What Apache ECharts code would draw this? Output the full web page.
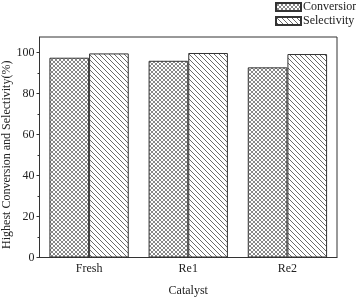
<!DOCTYPE html>
<html><head><meta charset="utf-8">
<script src="https://cdn.jsdelivr.net/npm/echarts@6/dist/echarts.min.js"></script>
<style>html,body{margin:0;padding:0;background:#fff}#c{width:356px;height:298px}</style>
</head><body><div id="c"></div>
<script>
const categories = ['Fresh', 'Re1', 'Re2'];
const conversion = [97.4, 95.9, 92.7];
const selectivity = [99.5, 99.7, 99.2];
const yTicks = [0, 20, 40, 60, 80, 100];
const yMinorTicks = [10, 30, 50, 70, 90];

function crossPattern() {
  const c = document.createElement('canvas');
  c.width = 4; c.height = 4;
  const g = c.getContext('2d');
  g.fillStyle = '#fff'; g.fillRect(0, 0, 4, 4);
  g.strokeStyle = '#6a6a6a'; g.lineWidth = 0.8;
  g.beginPath();
  g.moveTo(0, 0); g.lineTo(4, 4);
  g.moveTo(4, 0); g.lineTo(0, 4);
  g.stroke();
  return c;
}
function diagPattern() {
  const s = 5;
  const c = document.createElement('canvas');
  c.width = s; c.height = s;
  const g = c.getContext('2d');
  g.fillStyle = '#fff'; g.fillRect(0, 0, s, s);
  g.strokeStyle = '#444'; g.lineWidth = 0.8;
  g.beginPath();
  g.moveTo(-1, -1); g.lineTo(s + 1, s + 1);
  g.moveTo(-1, s - 1); g.lineTo(1, s + 1);
  g.moveTo(s - 1, -1); g.lineTo(s + 1, 1);
  g.stroke();
  return c;
}
const font = 'Liberation Serif';
const txt = '#222';
const chart = echarts.init(document.getElementById('c'), null, {renderer: 'canvas'});
chart.setOption({
  animation: false,
  textStyle: {fontFamily: font},
  grid: {left: 39.5, right: 19, top: 37, bottom: 40.5, containLabel: false, outerBoundsMode: 'none',
    show: true, borderColor: '#333', borderWidth: 1, backgroundColor: 'transparent'},
  legend: {
    orient: 'vertical', left: 275, top: 1, itemWidth: 25, itemHeight: 8, itemGap: 2,
    icon: 'rect', padding: 0,
    textStyle: {fontFamily: font, fontSize: 12, color: txt, padding: [0, 0, 0, -3]},
    data: ['Conversion', 'Selectivity']
  },
  xAxis: [{
    type: 'category', data: categories,
    name: 'Catalyst', nameLocation: 'middle', nameGap: 27, nameMoveOverlap: false,
    nameTextStyle: {fontFamily: font, fontSize: 12, color: txt},
    axisLine: {lineStyle: {color: '#333', width: 1}},
    axisTick: {alignWithLabel: true, length: 4, lineStyle: {color: '#333'}},
    axisLabel: {fontFamily: font, fontSize: 12, color: txt, margin: 5}
  }, {
    type: 'category', data: categories, position: 'bottom',
    axisLine: {show: false},
    axisTick: {length: 2.5, lineStyle: {color: '#333'}},
    axisLabel: {show: false}
  }],
  yAxis: [{
    type: 'value', min: 0, max: 107.5, interval: 20,
    name: 'Highest Conversion and Selectivity(%)', nameLocation: 'middle', nameGap: 27, nameMoveOverlap: false,
    nameTextStyle: {fontFamily: font, fontSize: 12, color: txt, padding: [0, 15, 0, 0]},
    axisLine: {show: true, lineStyle: {color: '#333', width: 1}},
    axisTick: {show: true, length: 3, customValues: yTicks, lineStyle: {color: '#333'}},
    axisLabel: {fontFamily: font, fontSize: 12, color: txt, margin: 5, customValues: yTicks},
    splitLine: {show: false}
  }, {
    type: 'value', min: 0, max: 107.5, position: 'left',
    axisLine: {show: false},
    axisTick: {show: true, length: 2, customValues: yMinorTicks, lineStyle: {color: '#333'}},
    axisLabel: {show: false},
    splitLine: {show: false}
  }],
  series: [{
    name: 'Conversion', type: 'bar', data: conversion,
    barGap: '0%', barCategoryGap: '20%',
    itemStyle: {color: {image: crossPattern(), repeat: 'repeat'}, borderColor: '#333', borderWidth: 1}
  }, {
    name: 'Selectivity', type: 'bar', data: selectivity,
    barGap: '0%', barCategoryGap: '20%',
    itemStyle: {color: {image: diagPattern(), repeat: 'repeat'}, borderColor: '#333', borderWidth: 1}
  }]
});
</script></body></html>
